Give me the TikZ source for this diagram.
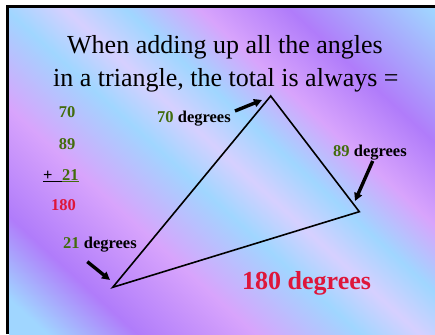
\documentclass[tikz,border=0pt]{standalone}
\usepackage{fontspec}
\setmainfont{Liberation Serif}
\usetikzlibrary{arrows.meta}

\definecolor{bgblue}{RGB}{160,214,255}
\definecolor{bglav}{RGB}{214,208,255}
\definecolor{bgviolet}{RGB}{176,124,250}
\definecolor{bgpink}{RGB}{216,164,252}
\definecolor{numgreen}{RGB}{66,108,12}
\definecolor{sumred}{RGB}{222,22,58}

\pgfdeclareverticalshading{slidebg}{100bp}{
    color(0bp)=(bgblue); color(17.9bp)=(bgblue);
    color(26.1bp)=(bgviolet); color(36.9bp)=(bgpink);
    color(46.4bp)=(bgblue); color(51.8bp)=(bglav);
    color(57.3bp)=(bgblue); color(64bp)=(bgpink);
    color(72.2bp)=(bgviolet); color(85.3bp)=(bgblue);
    color(100bp)=(bgblue)}

\begin{document}
\begin{tikzpicture}[
    x=1pt, y=-1pt,
    title/.style={
        anchor=base west,
        inner sep=0pt,
        font=\fontsize{26}{30}\selectfont
    },
    num/.style={
        anchor=base,
        inner sep=0pt,
        font=\fontsize{16.5}{18}\selectfont\bfseries
    },
    anglelabel/.style={
        anchor=base west,
        inner sep=0pt,
        font=\fontsize{16.5}{18}\selectfont\bfseries
    },
    side/.style={line width=1.6pt, line join=miter},
    pointer/.style={-{Triangle[length=8pt,width=8pt]}, line width=3.4pt}
]
\useasboundingbox (0,0) rectangle (435,334);

% Slide background and frame
\fill[shading=slidebg, shading angle=-42.5] (9,8) rectangle (435,334);
\draw[line width=3pt] (7.5,334) -- (7.5,6.5) -- (435,6.5);

% Title
\node[title] (line1) at (67,54) {When adding up all the angles};
\node[title] (line2) at (53,86) {in a triangle, the total is always =};

% Sum on the left
\node[num, text=numgreen] (n70) at (67,117) {70};
\node[num, text=numgreen] (n89) at (67,149) {89};
\node[num, anchor=base west] (n21) at (43,180)
    {\underline{+\hspace{9.6pt}}\textcolor{numgreen}{\underline{21}}};
\node[num, text=sumred] (n180) at (63.5,210) {180};

% Triangle
\coordinate (top) at (270.7,96);
\coordinate (right) at (359.3,211.7);
\coordinate (left) at (112.7,287.3);
\draw[side] (top) -- (right) -- (left) -- cycle;

% Angle labels
\node[anglelabel] (a70) at (157,122) {\textcolor{numgreen}{70} degrees};
\node[anglelabel] (a89) at (333,156) {\textcolor{numgreen}{89} degrees};
\node[anglelabel] (a21) at (63,248) {\textcolor{numgreen}{21} degrees};

% Pointers
\coordinate (p70) at (235,111);
\coordinate (t70) at (262,100);
\coordinate (p89) at (372.7,161);
\coordinate (t89) at (355,201);
\coordinate (p21) at (87.3,261.7);
\coordinate (t21) at (110,280);
\draw[pointer] (p70) -- (t70);
\draw[pointer] (p89) -- (t89);
\draw[pointer] (p21) -- (t21);

% Total
\node[anglelabel, text=sumred, font=\fontsize{26}{30}\selectfont\bfseries]
    (total) at (242,289) {180 degrees};

\end{tikzpicture}
\end{document}
